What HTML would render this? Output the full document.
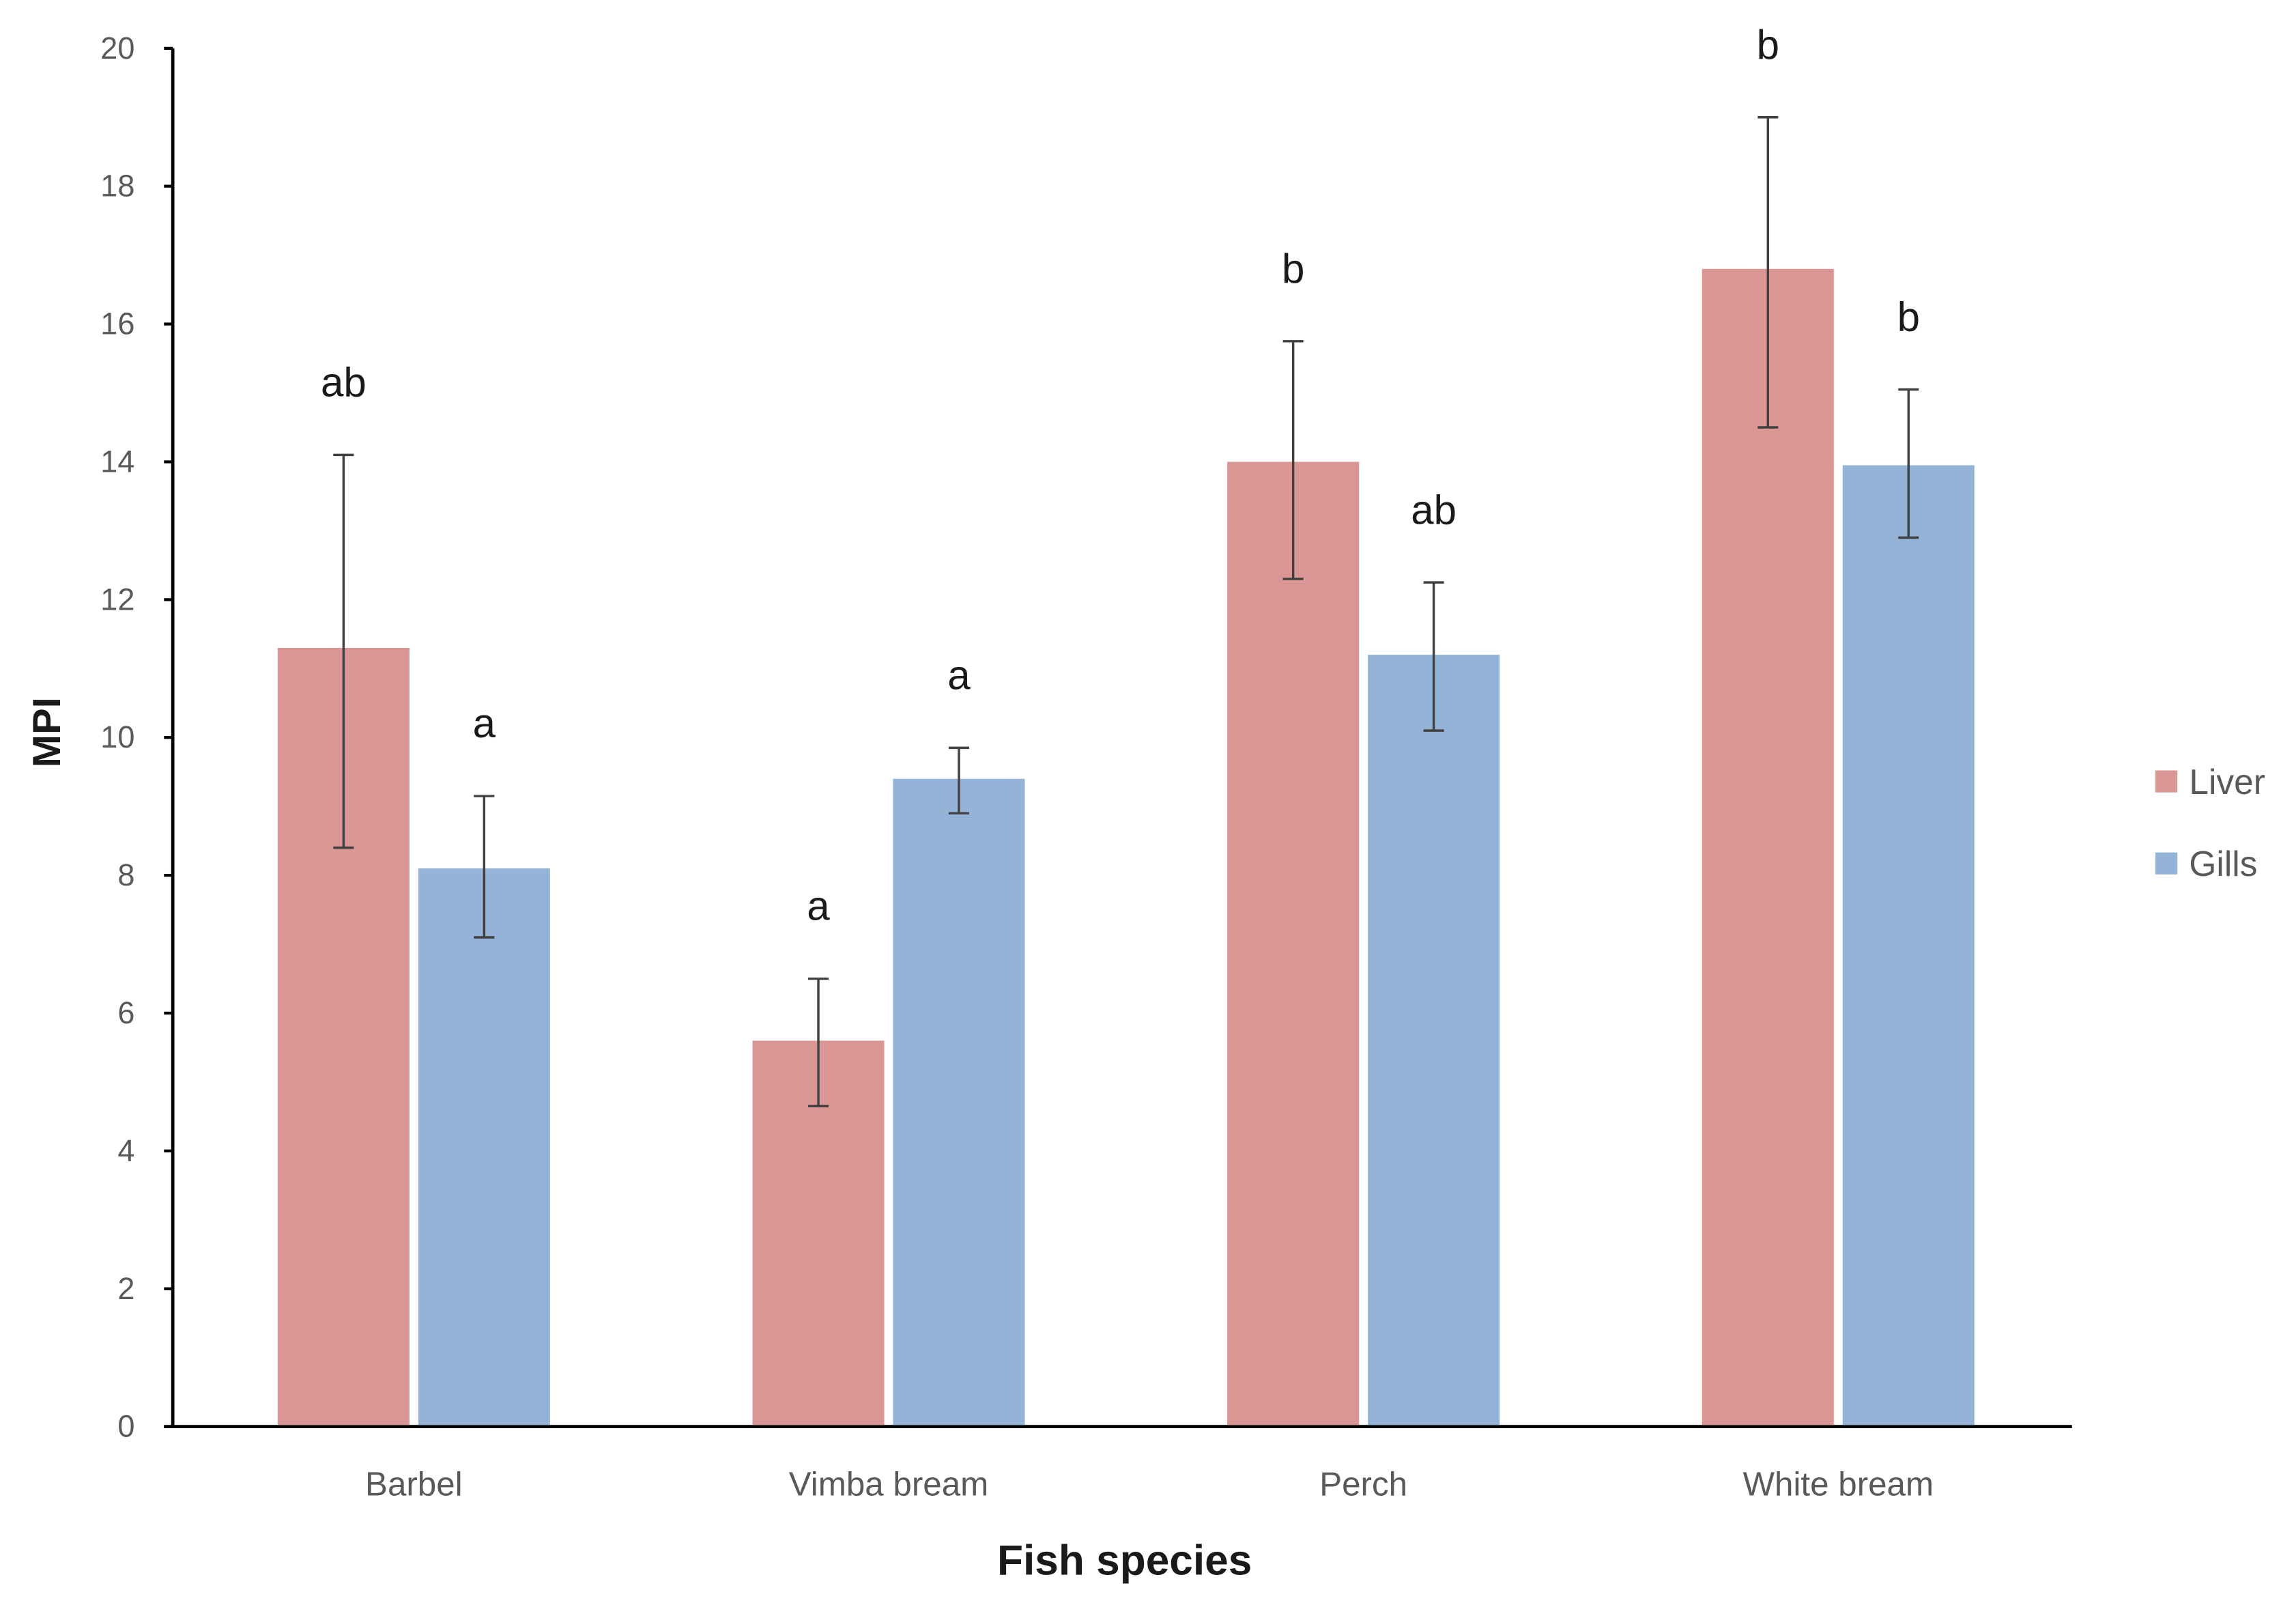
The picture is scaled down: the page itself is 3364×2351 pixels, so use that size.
<!DOCTYPE html>
<html><head><meta charset="utf-8"><style>
html,body{margin:0;padding:0;background:#fff;}
svg{display:block;}
text{font-family:"Liberation Sans",sans-serif;}
</style></head><body>
<svg id="chart" width="3364" height="2351" viewBox="0 0 1568 1095.8" xmlns="http://www.w3.org/2000/svg">
<g id="plot"></g>
</svg>
<script>
const categories = ["Barbel","Vimba bream","Perch","White bream"];
const liverValues = [11.3, 5.6, 14.0, 16.8];
const liverErrLow = [8.4, 4.65, 12.3, 14.5];
const liverErrHigh = [14.1, 6.5, 15.75, 19.0];
const liverLetters = ["ab","a","b","b"];
const gillsValues = [8.1, 9.4, 11.2, 13.95];
const gillsErrLow = [7.1, 8.9, 10.1, 12.9];
const gillsErrHigh = [9.15, 9.85, 12.25, 15.05];
const gillsLetters = ["a","a","ab","b"];
const yTicks = [0,2,4,6,8,10,12,14,16,18,20];

const NS="http://www.w3.org/2000/svg";
const g=document.getElementById('plot');
const X0=118, X1=1415, Y0=974, Ytop=33, YMAX=20;
const yScale=v=>Y0-(v/YMAX)*(Y0-Ytop);
const bandW=(X1-X0)/categories.length;
const xCenter=i=>X0+bandW*(i+0.5)+2.5;
const barW=90, gap=6;
function mk(tag,attrs){const e=document.createElementNS(NS,tag);for(const k in attrs)e.setAttribute(k,attrs[k]);g.appendChild(e);return e;}

let e=mk('line',{x1:X0,y1:Ytop,x2:X0,y2:Y0,stroke:'#000','stroke-width':2.2});


e=mk('line',{x1:X0-6,y1:Y0,x2:X1,y2:Y0,stroke:'#000','stroke-width':2.2});



yTicks.forEach(t=>{
  const y=yScale(t);
  let tk=mk('line',{x1:X0-6,y1:y,x2:X0,y2:y,stroke:'#000','stroke-width':2});
  
  
  let tl=mk('text',{x:92,y:y+7,'text-anchor':'end','font-size':21,fill:'#595959'});
  tl.textContent=t;
  
  
});

function series(vals,lo,hi,letters,color,offset,name){
  vals.forEach((v,i)=>{
    const cx=xCenter(i)+offset;
    let r=mk('rect',{x:cx-barW/2,y:yScale(v),width:barW,height:Y0-1-yScale(v),fill:color});
    
    
    let eb=mk('path',{d:`M${cx},${yScale(lo[i])}V${yScale(hi[i])}M${cx-7},${yScale(lo[i])}H${cx+7}M${cx-7},${yScale(hi[i])}H${cx+7}`,stroke:'#404040','stroke-width':1.6,fill:'none'});
    
    
    let lt=mk('text',{x:cx,y:yScale(hi[i])-40,'text-anchor':'middle','font-size':28,fill:'#1a1a1a'});
    lt.textContent=letters[i];
    
    
  });
}
series(liverValues,liverErrLow,liverErrHigh,liverLetters,'#D99694',-(barW+gap)/2,'liver');
series(gillsValues,gillsErrLow,gillsErrHigh,gillsLetters,'#95B3D7',(barW+gap)/2,'gills');

categories.forEach((c,i)=>{
  let t=mk('text',{x:xCenter(i),y:1021,'text-anchor':'middle','font-size':23,fill:'#595959'});
  t.textContent=c;
  
  
});

let xt=mk('text',{x:768,y:1075,'text-anchor':'middle','font-size':29,'font-weight':'bold',fill:'#1a1a1a'});
xt.textContent='Fish species';


let yt=mk('text',{x:0,y:0,'text-anchor':'middle','font-size':27,'font-weight':'bold',fill:'#1a1a1a',transform:'translate(41,500) rotate(-90)'});
yt.textContent='MPI';



[['Liver','#D99694',534],['Gills','#95B3D7',590]].forEach(([n,c,y])=>{
  let s=mk('rect',{x:1472,y:y-8,width:15,height:15,fill:c});
  
  
  let t=mk('text',{x:1495,y:y+8,'font-size':24,fill:'#595959'});
  t.textContent=n;
  
  
});
</script>
</body></html>
